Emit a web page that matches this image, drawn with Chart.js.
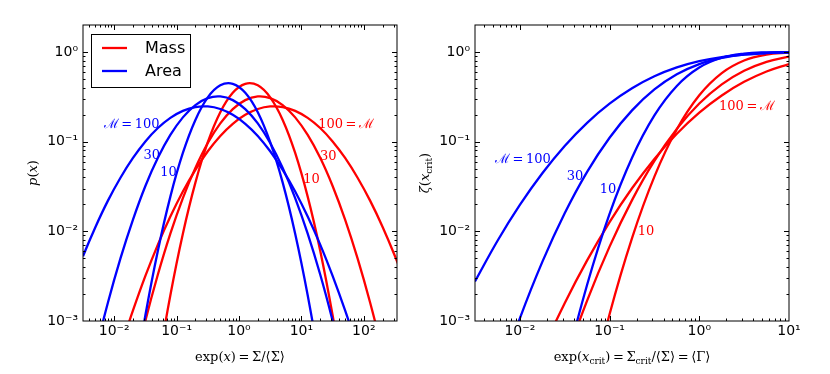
<!DOCTYPE html>
<html>
<head>
<meta charset="utf-8">
<script src="https://cdn.jsdelivr.net/npm/chart.js@4.4.0/dist/chart.umd.min.js"></script>
<style>
  body { margin: 0; background: #fff; }
  #wrap { position: relative; width: 830px; height: 374px; }
  #wrap canvas { position: absolute; top: 0; }
</style>
</head>
<body>
<div id="wrap">
  <canvas id="pdf" width="415" height="374" style="left:0"></canvas>
  <canvas id="cdf" width="415" height="374" style="left:415px"></canvas>
</div>
<script>
// left panel: p(x) against Sigma/<Sigma>
const pdfX = [0.002, 0.00316, 0.00501, 0.00794, 0.0126, 0.02, 0.0316, 0.0501, 0.0794, 0.126, 0.2, 0.316, 0.501, 0.794,
  1.26, 2.0, 3.16, 5.01, 7.94, 12.6, 20.0, 31.6, 50.1, 79.4, 126, 200, 316, 501];
const areaPdf10 = [1.9e-10, 5.1e-9, 1.0e-7, 1.6e-6, 1.87e-5, 1.69e-4, 1.16e-3, 6.09e-3, 0.0244, 0.0748, 0.1748, 0.3119, 0.4251, 0.4421,
  0.3512, 0.2130, 0.0986, 0.0349, 9.41e-3, 1.94e-3, 3.05e-4, 3.66e-5, 3.4e-6, 2.3e-7, 1.3e-8, 5e-10, 1.6e-11, 3.8e-13];
const areaPdf30 = [2.36e-5, 1.10e-4, 4.51e-4, 1.61e-3, 4.99e-3, 0.0135, 0.0320, 0.0660, 0.1188, 0.1866, 0.2557, 0.3059, 0.3191, 0.2905,
  0.2308, 0.1599, 0.0967, 0.0510, 0.0235, 9.43e-3, 3.30e-3, 1.01e-3, 2.70e-4, 6.3e-5, 1.27e-5, 2.26e-6, 3.5e-7, 4.7e-8];
const areaPdf100 = [2.29e-3, 5.28e-3, 0.0112, 0.0220, 0.0396, 0.0658, 0.1006, 0.1419, 0.1843, 0.2206, 0.2432, 0.2470, 0.2312, 0.1993,
  0.1583, 0.1159, 0.0781, 0.0485, 0.0278, 0.0146, 7.11e-3, 3.18e-3, 1.31e-3, 4.98e-4, 1.74e-4, 5.6e-5, 1.67e-5, 4.6e-6];
const massPdf10 = [3.8e-13, 1.6e-11, 5e-10, 1.3e-8, 2.3e-7, 3.4e-6, 3.66e-5, 3.05e-4, 1.94e-3, 9.41e-3, 0.0349, 0.0986, 0.2130, 0.3512,
  0.4421, 0.4251, 0.3119, 0.1748, 0.0748, 0.0244, 6.09e-3, 1.16e-3, 1.69e-4, 1.87e-5, 1.6e-6, 1.0e-7, 5.1e-9, 1.9e-10];
const massPdf30 = [4.7e-8, 3.5e-7, 2.26e-6, 1.27e-5, 6.3e-5, 2.70e-4, 1.01e-3, 3.30e-3, 9.43e-3, 0.0235, 0.0510, 0.0967, 0.1599, 0.2308,
  0.2905, 0.3191, 0.3059, 0.2557, 0.1866, 0.1188, 0.0660, 0.0320, 0.0135, 4.99e-3, 1.61e-3, 4.51e-4, 1.10e-4, 2.36e-5];
const massPdf100 = [4.6e-6, 1.67e-5, 5.6e-5, 1.74e-4, 4.98e-4, 1.31e-3, 3.18e-3, 7.11e-3, 0.0146, 0.0278, 0.0485, 0.0781, 0.1159, 0.1583,
  0.1993, 0.2312, 0.2470, 0.2432, 0.2206, 0.1843, 0.1419, 0.1006, 0.0658, 0.0396, 0.0220, 0.0112, 5.28e-3, 2.29e-3];

// right panel: zeta(x_crit) against Sigma_crit/<Sigma>
const cdfX = [0.00316, 0.00562, 0.01, 0.0178, 0.0316, 0.0562, 0.1, 0.178, 0.316, 0.562, 1, 1.78, 3.16, 5.62, 10];
const areaCdf10 = [7.4e-10, 3.4e-8, 1.0e-6, 2.07e-5, 2.79e-4, 2.54e-3, 0.0157, 0.0663, 0.1963, 0.4184, 0.6711, 0.8626, 0.9592, 0.9916, 0.9988];
const areaCdf30 = [3.28e-5, 2.07e-4, 1.07e-3, 4.56e-3, 0.0159, 0.0461, 0.1106, 0.2233, 0.3823, 0.5642, 0.7335, 0.8611, 0.9390, 0.9777, 0.9932];
const areaCdf100 = [2.76e-3, 7.81e-3, 0.0197, 0.0444, 0.0895, 0.1622, 0.2651, 0.3937, 0.5353, 0.6723, 0.7894, 0.8775, 0.9358, 0.9698, 0.9873];
const massCdf10 = [2e-12, 1.6e-10, 8.8e-9, 3.1e-7, 7.2e-6, 1.13e-4, 1.19e-3, 8.42e-3, 0.0408, 0.1374, 0.3289, 0.5816, 0.8037, 0.9337, 0.9843];
const massCdf30 = [8.1e-8, 8.9e-7, 7.9e-6, 5.8e-5, 3.46e-4, 1.69e-3, 6.75e-3, 0.0223, 0.0610, 0.1389, 0.2665, 0.4358, 0.6177, 0.7767, 0.8894];
const massCdf100 = [5.8e-6, 2.83e-5, 1.22e-4, 4.66e-4, 1.58e-3, 4.74e-3, 0.0127, 0.0302, 0.0642, 0.1225, 0.2106, 0.3277, 0.4647, 0.6063, 0.7350];

const legendLabels = ['Mass', 'Area'];
const RED = '#ff0000', BLUE = '#0000ff';

// curve labels, placed in data coordinates
const pdfNotes = [
  { t: 'ℳ\u2009=\u2009100', x: 0.019, y: 0.156, c: BLUE },
  { t: '30', x: 0.040, y: 0.070, c: BLUE },
  { t: '10', x: 0.074, y: 0.0454, c: BLUE },
  { t: '100\u2009=\u2009ℳ', x: 52, y: 0.156, c: RED },
  { t: '30', x: 27, y: 0.0685, c: RED },
  { t: '10', x: 14.5, y: 0.0379, c: RED }
];
const cdfNotes = [
  { t: 'ℳ\u2009=\u2009100', x: 0.0108, y: 0.0634, c: BLUE },
  { t: '30', x: 0.0412, y: 0.0409, c: BLUE },
  { t: '10', x: 0.096, y: 0.0293, c: BLUE },
  { t: '100\u2009=\u2009ℳ', x: 3.4, y: 0.249, c: RED },
  { t: '10', x: 0.255, y: 0.0099, c: RED }
];

const SERIF = '"DejaVu Serif", "Liberation Serif", serif';
const SANS = '"DejaVu Sans", sans-serif';

const pts = (xs, ys) => xs.map((x, i) => ({ x, y: ys[i] }));
const line = (xs, ys, color) => ({
  data: pts(xs, ys), borderColor: color, borderWidth: 2.3, pointRadius: 0, tension: 0.4, fill: false
});

const sup = { '-': '⁻', '0': '⁰', '1': '¹', '2': '²', '3': '³' };
function powLabel(v) {
  const e = Math.log10(v);
  if (Math.abs(e - Math.round(e)) > 1e-6) return '';
  return '10' + String(Math.round(e)).split('').map(ch => sup[ch]).join('');
}

// text made of pieces, some italic or lowered
function drawRich(ctx, parts, bx, by, vertical) {
  const fontOf = p => (p.i ? 'italic ' : '') + (p.sub ? 9 : 13) + 'px ' + SERIF;
  let w = 0;
  parts.forEach(p => { ctx.font = fontOf(p); p.w = ctx.measureText(p.t).width; w += p.w; });
  ctx.save();
  ctx.translate(bx, by);
  if (vertical) ctx.rotate(-Math.PI / 2);
  ctx.fillStyle = '#000';
  ctx.textBaseline = 'alphabetic';
  let x = -w / 2;
  parts.forEach(p => { ctx.font = fontOf(p); ctx.fillText(p.t, x, p.sub ? 3 : 0); x += p.w; });
  ctx.restore();
}

// frame with matplotlib-like inward ticks on four sides
const frameTicks = {
  id: 'frameTicks',
  afterDraw(chart) {
    const { ctx, chartArea: a, scales } = chart;
    ctx.save();
    ctx.strokeStyle = '#000';
    ctx.lineWidth = 1;
    const marks = (scale, horiz) => {
      const lo = Math.floor(Math.log10(scale.min)), hi = Math.ceil(Math.log10(scale.max));
      ctx.beginPath();
      for (let n = lo; n <= hi; n++) {
        for (let m = 1; m < 10; m++) {
          const v = m * Math.pow(10, n);
          if (v < scale.min * 1.001 || v > scale.max * 0.999) continue;
          const p = Math.round(scale.getPixelForValue(v)) + 0.5;
          const len = m === 1 ? 5 : 2.5;
          if (horiz) {
            ctx.moveTo(p, a.bottom); ctx.lineTo(p, a.bottom - len);
            ctx.moveTo(p, a.top); ctx.lineTo(p, a.top + len);
          } else {
            ctx.moveTo(a.left, p); ctx.lineTo(a.left + len, p);
            ctx.moveTo(a.right, p); ctx.lineTo(a.right - len, p);
          }
        }
      }
      ctx.stroke();
    };
    marks(scales.x, true);
    marks(scales.y, false);
    ctx.strokeRect(a.left, a.top, a.right - a.left, a.bottom - a.top);
    ctx.restore();
  }
};

function decorations(notes, xTitle, yTitle, withLegend) {
  return {
    id: 'decorations',
    afterDraw(chart) {
      const { ctx, chartArea: a, scales } = chart;
      ctx.save();
      ctx.font = '13px ' + SERIF;
      ctx.textAlign = 'center';
      ctx.textBaseline = 'middle';
      notes.forEach(n => {
        ctx.fillStyle = n.c;
        ctx.fillText(n.t, scales.x.getPixelForValue(n.x), scales.y.getPixelForValue(n.y));
      });
      ctx.restore();
      drawRich(ctx, xTitle, (a.left + a.right) / 2, a.bottom + 40, false);
      drawRich(ctx, yTitle, a.left - 46, (a.top + a.bottom) / 2, true);
      if (withLegend) {
        ctx.save();
        const bx = a.left + 8, by = a.top + 9;
        ctx.fillStyle = '#fff';
        ctx.fillRect(bx, by, 99, 53);
        ctx.strokeStyle = '#000';
        ctx.lineWidth = 1;
        ctx.strokeRect(bx + 0.5, by + 0.5, 99, 53);
        [RED, BLUE].forEach((c, i) => {
          const ly = by + 14 + i * 23;
          ctx.strokeStyle = c;
          ctx.lineWidth = 2.3;
          ctx.beginPath();
          ctx.moveTo(bx + 11, ly); ctx.lineTo(bx + 36, ly);
          ctx.stroke();
          ctx.fillStyle = '#000';
          ctx.font = '16px ' + SANS;
          ctx.textBaseline = 'middle';
          ctx.fillText(legendLabels[i], bx + 54, ly + 1);
        });
        ctx.restore();
      }
    }
  };
}

function logAxis(min, max, fixSize, horiz) {
  return {
    type: 'logarithmic', min, max,
    grid: { display: false, drawTicks: false },
    border: { display: false },
    ticks: {
      autoSkip: false, maxRotation: 0, padding: horiz ? 2 : 5,
      color: '#000', font: { family: SANS, size: 14 },
      callback: v => powLabel(v)
    },
    afterFit(scale) { if (horiz) scale.height = fixSize; else scale.width = fixSize; }
  };
}

function makeChart(id, datasets, xr, yr, padRight, yWidth, plugins) {
  return new Chart(document.getElementById(id), {
    type: 'line',
    data: { datasets },
    options: {
      responsive: false,
      animation: false,
      layout: { padding: { top: 25, right: padRight, left: 0, bottom: 0 } },
      plugins: { legend: { display: false }, tooltip: { enabled: false } },
      scales: {
        x: logAxis(xr[0], xr[1], 53, true),
        y: logAxis(yr[0], yr[1], yWidth, false)
      }
    },
    plugins
  });
}

makeChart('pdf', [
  line(pdfX, areaPdf100, BLUE), line(pdfX, areaPdf30, BLUE), line(pdfX, areaPdf10, BLUE),
  line(pdfX, massPdf100, RED), line(pdfX, massPdf30, RED), line(pdfX, massPdf10, RED)
], [0.0031623, 340], [0.001, 2], 18, 83, [frameTicks, decorations(pdfNotes,
  [{ t: 'exp(' }, { t: 'x', i: true }, { t: ')\u2009=\u2009Σ/⟨Σ⟩' }],
  [{ t: 'p', i: true }, { t: '(' }, { t: 'x', i: true }, { t: ')' }], true)]);

makeChart('cdf', [
  line(cdfX, areaCdf100, BLUE), line(cdfX, areaCdf30, BLUE), line(cdfX, areaCdf10, BLUE),
  line(cdfX, massCdf100, RED), line(cdfX, massCdf30, RED), line(cdfX, massCdf10, RED)
], [0.0031623, 10], [0.001, 2], 41, 60, [frameTicks, decorations(cdfNotes,
  [{ t: 'exp(' }, { t: 'x', i: true }, { t: 'crit', sub: true }, { t: ')\u2009=\u2009Σ' }, { t: 'crit', sub: true },
   { t: '/⟨Σ⟩\u2009=\u2009⟨Γ⟩' }],
  [{ t: 'ζ', i: true }, { t: '(' }, { t: 'x', i: true }, { t: 'crit', sub: true }, { t: ')' }], false)]);
</script>
</body>
</html>
